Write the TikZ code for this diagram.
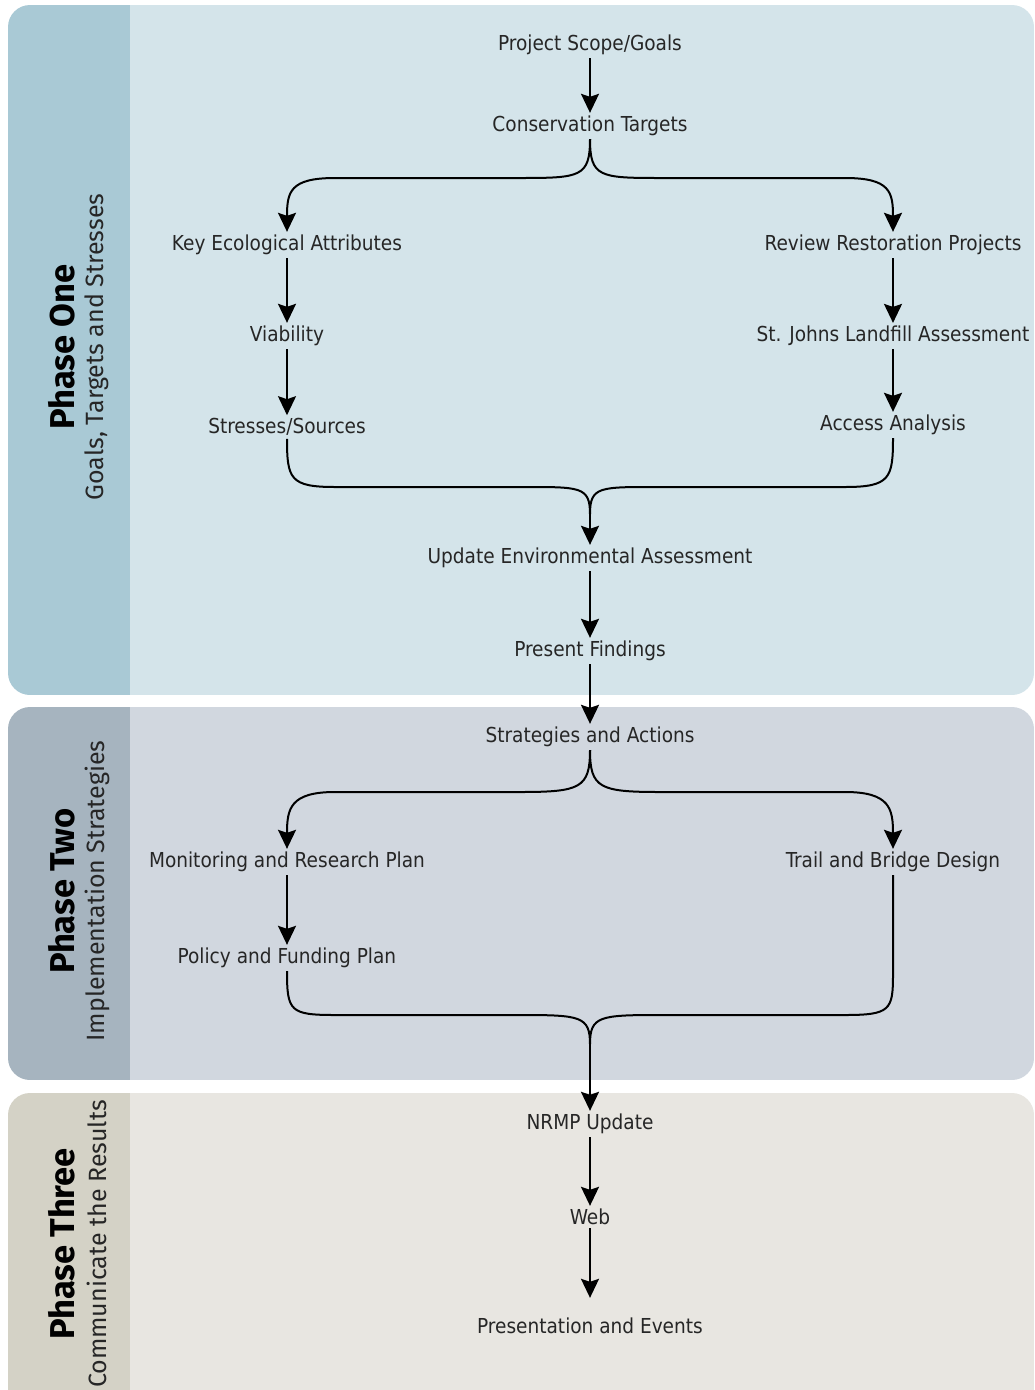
\documentclass[tikz,border=0pt]{standalone}
\usepackage{fontspec}
\setmainfont{DejaVu Sans Condensed}
\newfontfamily\sidefont{Fira Sans}
\usepackage{tikz}
\usetikzlibrary{arrows.meta}
\usepackage{xcolor}
\definecolor{tabone}{HTML}{A9C9D5}
\definecolor{mainone}{HTML}{D4E4EA}
\definecolor{tabtwo}{HTML}{A6B4BF}
\definecolor{maintwo}{HTML}{D1D7DF}
\definecolor{tabthree}{HTML}{D4D2C6}
\definecolor{mainthree}{HTML}{E8E6E1}

\begin{document}
\begin{tikzpicture}[
        x=1pt,y=-1pt,
        lbl/.style={inner sep=3pt,text=black!85,font=\fontsize{20.6}{23}\selectfont},
        ptitle/.style={rotate=90,inner sep=0pt,font=\sidefont\bfseries\fontsize{34.5}{38}\selectfont},
        psub/.style={rotate=90,inner sep=0pt,text=black!85,font=\sidefont\fontsize{25}{29}\selectfont},
        flow/.style={line width=2pt,-{Stealth[width=18pt,length=19pt,inset=3pt]}},
        link/.style={line width=2pt},
    ]
\useasboundingbox (0,0) rectangle (1034,1390);

% phase panels
\foreach \ya/\yb/\tc/\mc in {5/695/tabone/mainone,707/1080/tabtwo/maintwo,1093/1420/tabthree/mainthree} {
  \begin{scope}
    \clip[rounded corners=22pt] (8,\ya) rectangle (1034,\yb);
    \fill[\tc] (8,\ya) rectangle (130,\yb);
    \fill[\mc] (130,\ya) rectangle (1034,\yb);
  \end{scope}
}

% phase captions
\node[ptitle] (ponet) at (62,347) {Phase One};
\node[psub] (pones) at (97,347) {Goals, Targets and Stresses};
\node[ptitle] (ptwot) at (62,891) {Phase Two};
\node[psub] (ptwos) at (97,891) {Implementation Strategies};
\node[ptitle] (pthreet) at (62,1244) {Phase Three};
\node[psub] (pthrees) at (97,1244) {Communicate the Results};

% phase one
\node[lbl] (scope) at (590,45) {Project Scope/Goals};
\node[lbl] (cons) at (590,126) {Conservation Targets};
\node[lbl] (key) at (287,245) {Key Ecological Attributes};
\node[lbl] (viab) at (287,336) {Viability};
\node[lbl] (stress) at (287,427) {Stresses/Sources};
\node[lbl] (review) at (893,245) {Review Restoration Projects};
\node[lbl] (landfill) at (893,336) {St. Johns Landfill Assessment};
\node[lbl] (access) at (893,425) {Access Analysis};
\node[lbl] (update) at (590,558) {Update Environmental Assessment};
\node[lbl] (present) at (590,651) {Present Findings};

\draw[flow] (scope) -- (cons);
\draw[flow] (key) -- (viab);
\draw[flow] (viab) -- (stress);
\draw[flow] (review) -- (landfill);
\draw[flow] (landfill) -- (access);

\coordinate (a1) at (520,178); \coordinate (a2) at (335,178);
\coordinate (a3) at (660,178); \coordinate (a4) at (845,178);
\draw[flow] (cons.south) .. controls +(0,38) and +(60,0) .. (a1) -- (a2)
      .. controls +(-45,0) and +(0,-40) .. (key.north);
\draw[flow] (cons.south) .. controls +(0,38) and +(-60,0) .. (a3) -- (a4)
      .. controls +(45,0) and +(0,-40) .. (review.north);

\coordinate (m1) at (590,514);
\coordinate (b1) at (335,487); \coordinate (b2) at (520,487);
\coordinate (b3) at (845,487); \coordinate (b4) at (660,487);
\draw[link] (stress.south) .. controls +(0,40) and +(-45,0) .. (b1) -- (b2)
      .. controls +(60,0) and +(0,-28) .. (m1);
\draw[link] (access.south) .. controls +(0,40) and +(45,0) .. (b3) -- (b4)
      .. controls +(-60,0) and +(0,-28) .. (m1);
\draw[flow] (m1) -- (update);
\draw[flow] (update) -- (present);

% phase two
\node[lbl] (strat) at (590,737) {Strategies and Actions};
\node[lbl] (monit) at (287,862) {Monitoring and Research Plan};
\node[lbl] (trail) at (893,862) {Trail and Bridge Design};
\node[lbl] (policy) at (287,958) {Policy and Funding Plan};

\draw[flow] (present) -- (strat);
\draw[flow] (monit) -- (policy);

\coordinate (c1) at (520,792); \coordinate (c2) at (335,792);
\coordinate (c3) at (660,792); \coordinate (c4) at (845,792);
\draw[flow] (strat.south) .. controls +(0,38) and +(60,0) .. (c1) -- (c2)
      .. controls +(-45,0) and +(0,-40) .. (monit.north);
\draw[flow] (strat.south) .. controls +(0,38) and +(-60,0) .. (c3) -- (c4)
      .. controls +(45,0) and +(0,-40) .. (trail.north);

\coordinate (m2) at (590,1044);
\coordinate (d1) at (335,1015); \coordinate (d2) at (520,1015);
\coordinate (d3) at (845,1015); \coordinate (d4) at (660,1015);
\coordinate (d5) at (893,975);
\draw[link] (policy.south) .. controls +(0,40) and +(-45,0) .. (d1) -- (d2)
      .. controls +(60,0) and +(0,-28) .. (m2);
\draw[link] (trail.south) -- (d5) .. controls +(0,35) and +(45,0) .. (d3) -- (d4)
      .. controls +(-60,0) and +(0,-28) .. (m2);

% phase three
\node[lbl] (nrmp) at (590,1124) {NRMP Update};
\node[lbl] (web) at (590,1217) {Web};
\node[lbl] (events) at (590,1326) {Presentation and Events};

\draw[flow] (m2) -- (nrmp);
\draw[flow] (nrmp) -- (web);
\draw[flow] (web) -- ([yshift=17pt]events.north);
\end{tikzpicture}
\end{document}
